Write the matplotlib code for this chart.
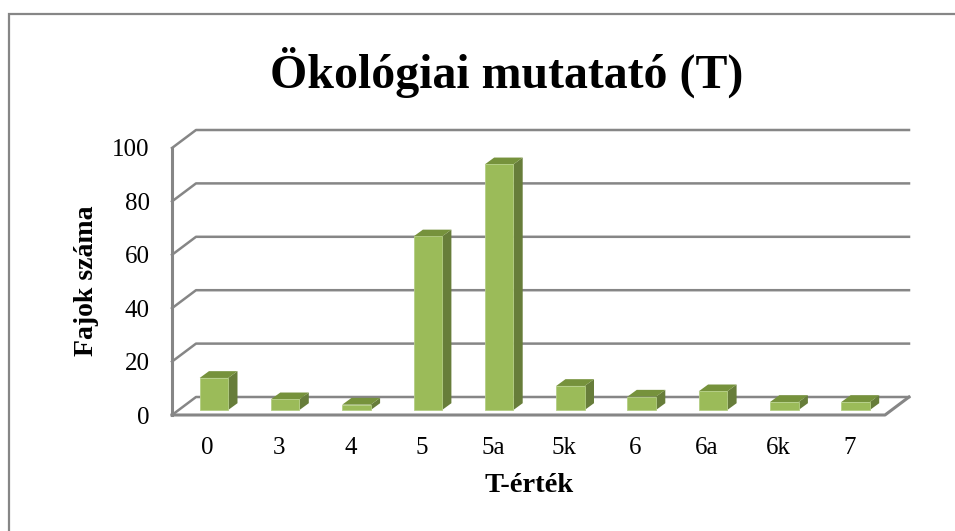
import matplotlib
matplotlib.use('Agg')
from matplotlib import pyplot as plt
from matplotlib.patches import Polygon
import numpy as np

categories = ['0', '3', '4', '5', '5a', '5k', '6', '6a', '6k', '7']
fajok = [12, 4, 2, 65, 92, 9, 5, 7, 3, 3]
y_ticks = [0, 20, 40, 60, 80, 100]
title = 'Ökológiai mutatató (T)'
x_title = 'T-érték'
y_title = 'Fajok száma'

W, H = 955, 531
GREY = '#868686'
plt.rcParams['font.family'] = ['Liberation Serif', 'DejaVu Serif']

fig = plt.figure(figsize=(W / 100, H / 100), dpi=100, facecolor='white')

# outer chart border, in pixels
bg = fig.add_axes([0, 0, 1, 1])
bg.set_xlim(0, W)
bg.set_ylim(H, 0)
bg.axis('off')
bg.plot([8.5, 8.5, W], [H, 14, 14], color=GREY, lw=1.6, solid_joinstyle='miter')

# front plane of the 3d box
left, right, top, bottom = 172, 885, 148, 415
ax = fig.add_axes([left / W, 1 - bottom / H, (right - left) / W, (bottom - top) / H])
ax.set_xlim(-0.5, 9.5)
ax.set_ylim(0, 100)
ax.patch.set_alpha(0)
for s in ax.spines.values():
    s.set_visible(False)

# pixel offsets turned into data units
ux = 10 / (right - left)
uy = 100 / (bottom - top)
back_dx, back_dy = 24 * ux, 18 * uy
bar_dx, bar_dy = 7 * ux, 5 * uy
depth_dx, depth_dy = 9.3 * ux, 6.8 * uy
bar_w = 0.4

# walls and gridlines
for v in y_ticks:
    ax.plot([-0.5, -0.5 + back_dx, 9.5 + back_dx], [v, v + back_dy, v + back_dy],
            color=GREY, lw=1.8, clip_on=False, zorder=1)
ax.plot([-0.5, -0.5], [0, 100], color=GREY, lw=2.2, clip_on=False, zorder=1)
ax.plot([-0.5, 9.5, 9.5 + back_dx], [0, 0, back_dy], color=GREY, lw=2.2, clip_on=False, zorder=1)

# bars
xs = np.arange(len(fajok)) + bar_dx - 0.01
ax.bar(xs, fajok, width=bar_w, bottom=bar_dy, color='#9BBB59', edgecolor='#B4CE84', lw=0.6,
       clip_on=False, zorder=3)
for x, v in zip(xs, fajok):
    x0, x1 = x - bar_w / 2, x + bar_w / 2
    y0, y1 = bar_dy, bar_dy + v
    ax.add_patch(Polygon([(x1, y0), (x1 + depth_dx, y0 + depth_dy), (x1 + depth_dx, y1 + depth_dy), (x1, y1)],
                         facecolor='#677D3A', edgecolor='none', clip_on=False, zorder=2))
    ax.add_patch(Polygon([(x0, y1), (x0 + depth_dx, y1 + depth_dy), (x1 + depth_dx, y1 + depth_dy), (x1, y1)],
                         facecolor='#76923C', edgecolor='none', clip_on=False, zorder=2))

ax.set_xticks(range(len(categories)))
ax.set_xticklabels(categories)
ax.set_yticks(y_ticks)
ax.tick_params(length=0, labelsize=18, colors='black')
ax.tick_params(axis='x', pad=16)
ax.tick_params(axis='y', pad=16)

fig.text(507 / W, 1 - 72 / H, title, fontsize=34.5, fontweight='bold', ha='center', va='center')
fig.text(529 / W, 1 - 486 / H, x_title, fontsize=20.5, fontweight='bold', ha='center', va='center')
fig.text(86 / W, 1 - 281 / H, y_title, fontsize=20, fontweight='bold', ha='center', va='center', rotation=90)

fig.savefig('out.png', dpi=100)
